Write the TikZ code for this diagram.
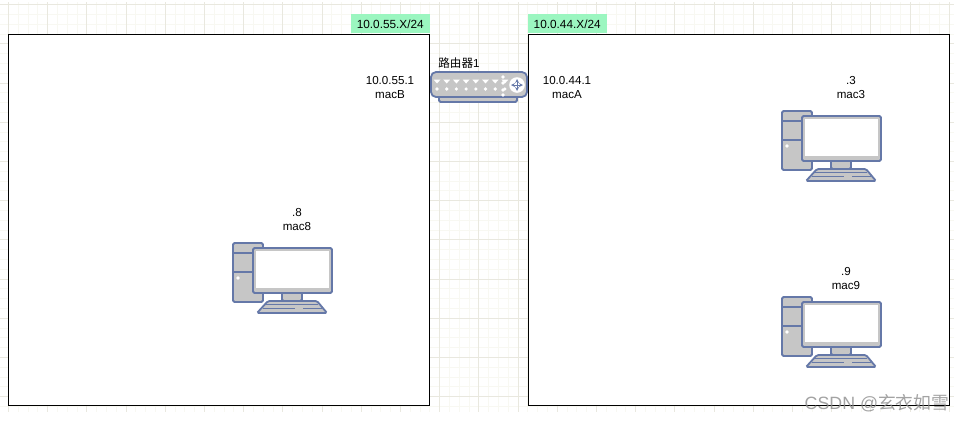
\documentclass[tikz,border=0pt]{standalone}
\usepackage{fontspec}
\setmainfont{Liberation Sans}
\newfontfamily\cjk{Noto Sans CJK SC}
\definecolor{gridminor}{HTML}{F8F8F2}
\definecolor{gridmajor}{HTML}{E9E8DF}
\definecolor{tagfill}{HTML}{9BF6C0}
\definecolor{devline}{HTML}{6578A8}
\definecolor{devfill}{HTML}{C6C6C6}
\tikzset{
  netbox/.style={draw=black, fill=white, line width=1pt, minimum width=421pt, minimum height=371pt, inner sep=0pt},
  tagbox/.style={fill=tagfill, minimum width=79pt, minimum height=19pt, inner sep=0pt, font=\fontsize{11.8}{13}\selectfont},
  addr/.style={align=center, inner sep=0pt, font=\fontsize{11.6}{14}\selectfont},
  devpart/.style={draw=devline, fill=devfill, line width=1.8pt, rounded corners=1.5pt},
  devwire/.style={draw=devline, line width=1.2pt},
  pics/pcbox/.style={code={
    \draw[devpart] (0,0) rectangle (30,59);
    \draw[devwire, line width=1.6pt] (0,10) -- (30,10) (0,29) -- (30,29);
    \fill[white] (5,35) circle (1.8);
    \draw[devpart] (49,49) rectangle (69,58);
    \draw[devpart] (35,58) -- (84,58) -- (94,70) -- (24,70) -- cycle;
    \draw[devwire] (33,61.5) -- (85,61.5) (30,65.5) -- (62,65.5) (70,65.5) -- (89,65.5);
    \draw[devpart, fill=devfill] (20,5) rectangle (99,50);
    \fill[white] (23,8) rectangle (96,45);
  }},
  pics/routerbox/.style={code={
    \draw[devpart] (8,24) rectangle (86,30);
    \draw[devpart, rounded corners=5pt] (0,0) rectangle (96,25);
    \foreach \i in {0,...,7} {
      \fill[white] (2.5+\i*9.7,7.5) -- (9.5+\i*9.7,7.5) -- (6+\i*9.7,11.5) -- cycle;
      \fill[white] (6+\i*9.7,17) circle (1.8);
    }
    \foreach \j in {5,11,18,23}
      \fill[white] (72,\j) circle (1.8);
    \fill[white] (86,13) circle (7.8);
    \draw[devline, line width=0.8pt, <->, >=stealth] (80,13) -- (92,13);
    \draw[devline, line width=0.8pt, <->, >=stealth] (86,7) -- (86,19);
  }}
}

\begin{document}
\begin{tikzpicture}[x=1pt, y=-1pt]
  \useasboundingbox (0,0) rectangle (954,421);
  \foreach \k in {0,...,96}
    \draw[gridminor, line width=0.8pt] ({-1.5+\k*9.8},2) -- ({-1.5+\k*9.8},412);
  \foreach \k in {0,...,41}
    \draw[gridminor, line width=0.8pt] (0,{4.5+\k*9.8}) -- (954,{4.5+\k*9.8});
  \foreach \k in {0,...,24}
    \draw[gridmajor, line width=0.8pt] ({8.3+\k*39.2},2) -- ({8.3+\k*39.2},412);
  \foreach \k in {0,...,10}
    \draw[gridmajor, line width=0.8pt] (0,{4.5+\k*39.2}) -- (954,{4.5+\k*39.2});

  \node[netbox] (netleft) at (219,219.5) {};
  \node[netbox] (netright) at (738.5,219.5) {};
  \node[tagbox, anchor=south east] (tagleft) at (netleft.north east) {10.0.55.X/24};
  \node[tagbox, anchor=south west] (tagright) at (netright.north west) {10.0.44.X/24};

  \pic at (431,72) {routerbox};
  \node[addr, anchor=center] (routername) at (459,63) {{\cjk 路由器}1};
  \node[addr] (portleft) at (390,88) {10.0.55.1\\macB};
  \node[addr] (portright) at (567,88) {10.0.44.1\\macA};

  \pic at (233,243) {pcbox};
  \node[addr] (hosteight) at (297,220) {.8\\mac8};
  \pic at (782,111) {pcbox};
  \node[addr] (hostthree) at (851,87.5) {.3\\mac3};
  \pic at (782,297) {pcbox};
  \node[addr] (hostnine) at (846,279) {.9\\mac9};

  \node[text=black!45, opacity=0.8, inner sep=0pt, font=\fontsize{17.8}{19}\selectfont] (mark) at (877,403) {CSDN @{\cjk 玄衣如雪}};
\end{tikzpicture}
\end{document}
